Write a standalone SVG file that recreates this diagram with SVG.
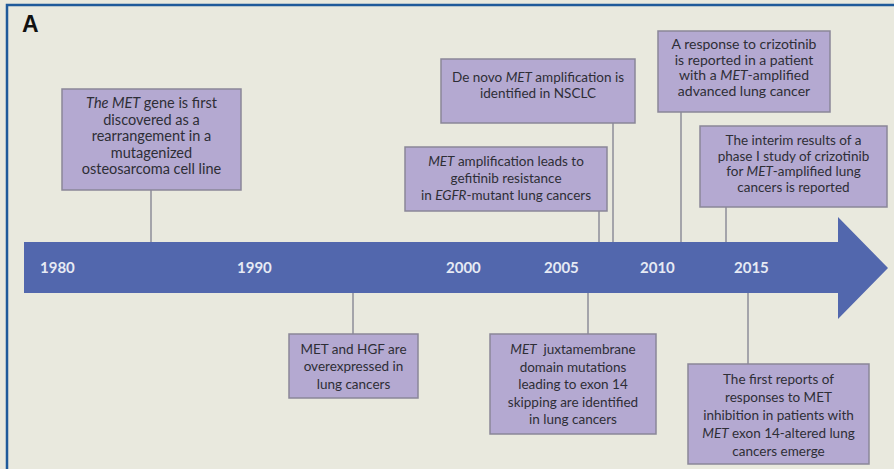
<svg xmlns="http://www.w3.org/2000/svg" width="894" height="469" viewBox="0 0 894 469">
  <defs>
    <style>
      .bg { fill: #e9e9de; }
      .frame { fill: none; stroke: #1f5a9a; stroke-width: 2.5; }
      .box { fill: #b4a9d1; stroke: #8a8798; stroke-width: 1.5; }
      .conn { stroke: #8c8c98; stroke-width: 1.5; fill: none; }
      .t { font-family: Lato, "Open Sans", sans-serif; font-size: 13.5px; fill: #2e2e36; text-anchor: middle; }
      .big { font-size: 14.5px; }
      .mid { font-size: 14px; }
      .yr { font-family: Lato, "Open Sans", sans-serif; font-size: 15px; font-weight: bold; fill: #e6eaf4; }
      .lbl { font-family: "Liberation Sans", Arial, sans-serif; font-size: 23px; font-weight: bold; fill: #111; }
      .i { font-style: italic; }
    </style>
  </defs>
  <rect class="bg" x="0" y="0" width="894" height="469"/>
  <path class="frame" d="M7,469 V5 H894"/>
  <text class="lbl" x="22" y="32">A</text>

  <g id="timeline">
    <polygon points="24,242 838,242 838,217 888,268 838,319 838,293 24,293" fill="#5267ad"/>
    <text class="yr" x="40" y="273">1980</text>
    <text class="yr" x="237" y="273">1990</text>
    <text class="yr" x="446" y="273">2000</text>
    <text class="yr" x="544" y="273">2005</text>
    <text class="yr" x="640" y="273">2010</text>
    <text class="yr" x="734" y="273">2015</text>
  </g>

  <g id="connectors">
    <line class="conn" x1="151" y1="190" x2="151" y2="242"/>
    <line class="conn" x1="613" y1="123" x2="613" y2="242"/>
    <line class="conn" x1="599" y1="211" x2="599" y2="242"/>
    <line class="conn" x1="681" y1="112" x2="681" y2="242"/>
    <line class="conn" x1="726" y1="207" x2="726" y2="242"/>
    <line class="conn" x1="353" y1="293" x2="353" y2="334"/>
    <line class="conn" x1="588" y1="293" x2="588" y2="334"/>
    <line class="conn" x1="748" y1="293" x2="748" y2="364"/>
  </g>

  <g id="n1">
    <rect class="box" x="62" y="89" width="179" height="101"/>
    <text class="t big" x="151.5" y="108"><tspan class="i">The MET</tspan> gene is first</text>
    <text class="t big" x="151.5" y="124.5">discovered as a</text>
    <text class="t big" x="151.5" y="141">rearrangement in a</text>
    <text class="t big" x="151.5" y="157.5">mutagenized</text>
    <text class="t big" x="151.5" y="174">osteosarcoma cell line</text>
  </g>

  <g id="n2">
    <rect class="box" x="441" y="59" width="194" height="64"/>
    <text class="t" x="538" y="82">De novo <tspan class="i">MET</tspan> amplification is</text>
    <text class="t" x="538" y="98">identified in NSCLC</text>
  </g>

  <g id="n3">
    <rect class="box" x="405" y="147" width="202" height="64"/>
    <text class="t" x="506" y="166"><tspan class="i">MET</tspan> amplification leads to</text>
    <text class="t" x="506" y="183">gefitinib resistance</text>
    <text class="t" x="506" y="200">in <tspan class="i">EGFR</tspan>-mutant lung cancers</text>
  </g>

  <g id="n4">
    <rect class="box" x="658" y="31" width="172" height="81"/>
    <text class="t mid" x="744" y="49">A response to crizotinib</text>
    <text class="t mid" x="744" y="64.5">is reported in a patient</text>
    <text class="t mid" x="744" y="80">with a <tspan class="i">MET</tspan>-amplified</text>
    <text class="t mid" x="744" y="95.5">advanced lung cancer</text>
  </g>

  <g id="n5">
    <rect class="box" x="700" y="126" width="187" height="81"/>
    <text class="t" x="793.5" y="145">The interim results of a</text>
    <text class="t" x="793.5" y="160.5">phase I study of crizotinib</text>
    <text class="t" x="793.5" y="176">for <tspan class="i">MET</tspan>-amplified lung</text>
    <text class="t" x="793.5" y="191.5">cancers is reported</text>
  </g>

  <g id="n6">
    <rect class="box" x="289" y="334" width="129" height="64"/>
    <text class="t" x="353.5" y="354">MET and HGF are</text>
    <text class="t" x="353.5" y="371">overexpressed in</text>
    <text class="t" x="353.5" y="389">lung cancers</text>
  </g>

  <g id="n7">
    <rect class="box" x="490" y="334" width="166" height="100"/>
    <text class="t" x="573" y="354"><tspan class="i">MET</tspan>&#160; juxtamembrane</text>
    <text class="t" x="573" y="371.5">domain mutations</text>
    <text class="t" x="573" y="389">leading to exon 14</text>
    <text class="t" x="573" y="406.5">skipping are identified</text>
    <text class="t" x="573" y="424">in lung cancers</text>
  </g>

  <g id="n8">
    <rect class="box" x="688" y="364" width="181" height="100"/>
    <text class="t" x="778.5" y="384">The first reports of</text>
    <text class="t" x="778.5" y="402">responses to MET</text>
    <text class="t" x="778.5" y="420">inhibition in patients with</text>
    <text class="t" x="778.5" y="438"><tspan class="i">MET</tspan> exon 14-altered lung</text>
    <text class="t" x="778.5" y="456">cancers emerge</text>
  </g>
</svg>
